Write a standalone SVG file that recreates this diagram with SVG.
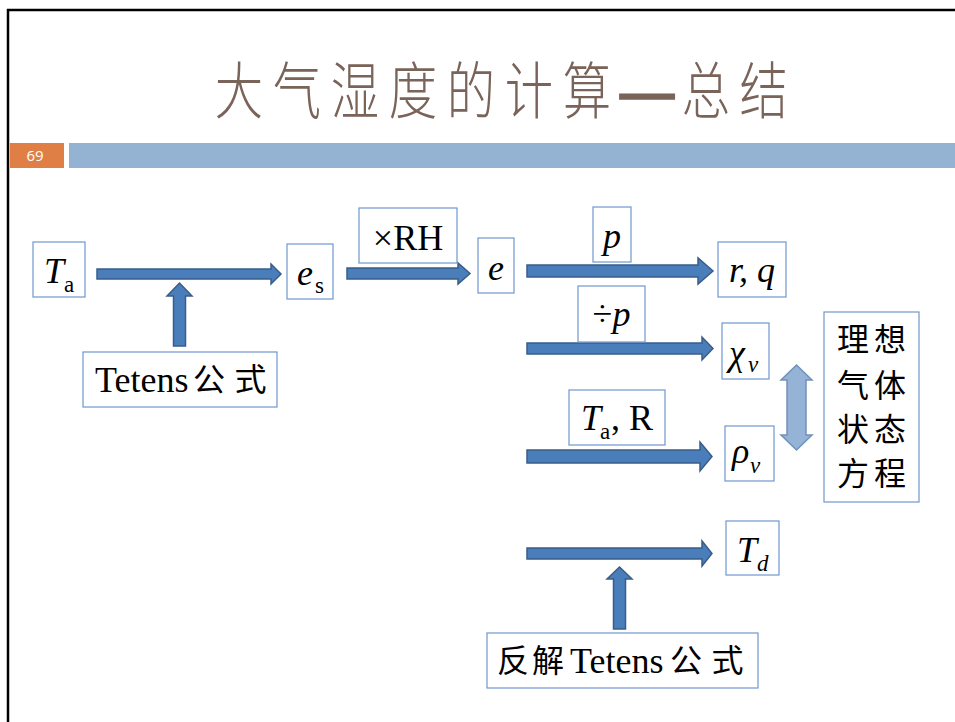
<svg xmlns="http://www.w3.org/2000/svg" width="955" height="722" viewBox="0 0 955 722">
<style>
.box{fill:#fff;stroke:#6f97cf;stroke-width:1.2}
.arr{fill:#4a7ebb;stroke:#385d8a;stroke-width:1.5;stroke-linejoin:miter}
.darr{fill:#95b3d7;stroke:#7391b8;stroke-width:1.5}
.m{font-family:"Liberation Serif","Times New Roman",serif;font-size:36px;fill:#000}
.i{font-style:italic}
.sub{font-size:23px}
.cjk{font-family:"Noto Sans CJK SC",sans-serif;font-size:32px;fill:#000}
.title{font-family:"Noto Sans CJK SC",sans-serif;font-size:62px;font-weight:300;fill:#7a6358}
</style>
<rect width="955" height="722" fill="#fff"/>
<g id="frame">
<line x1="7" y1="10" x2="955" y2="10" stroke="#000" stroke-width="2.5"/>
<line x1="8" y1="9" x2="8" y2="722" stroke="#000" stroke-width="2.5"/>
<rect x="10" y="143" width="54" height="25" fill="#e07f45"/>
<rect x="69" y="143" width="886" height="25" fill="#94b3d2"/>
<text x="35" y="161" text-anchor="middle" font-family="Open Sans,sans-serif" font-size="15" fill="#fff">69</text>
</g>
<g id="title">
<text class="title" transform="scale(0.78 1)" y="114" text-anchor="middle" x="306.4 380.8 455.1 529.5 603.8 678.2 752.6">大气湿度的计算</text>
<text class="title" transform="translate(647 114) scale(1.06 1)" text-anchor="middle" stroke="#7a6358" stroke-width="3.5">—</text>
<text class="title" transform="scale(0.78 1)" y="114" text-anchor="middle" x="905 979">总结</text>
</g>
<g id="connectors">
<polygon class="arr" points="97,269 271,269 271,264 281,274 271,284 271,279 97,279"/>
<polygon class="arr" points="347,268 458,268 458,263 470,273.5 458,284 458,279 347,279"/>
<polygon class="arr" points="527,265 698,265 698,258 713,271 698,284 698,277 527,277"/>
<polygon class="arr" points="527,343 702,343 702,337 713,348.5 702,360 702,354 527,354"/>
<polygon class="arr" points="527,450 700,450 700,442 712,456.5 700,471 700,463 527,463"/>
<polygon class="arr" points="527,548 702,548 702,541 712,553.5 702,566 702,559 527,559"/>
<polygon class="arr" points="173.5,346 173.5,296 167,296 179.5,283 192,296 185.5,296 185.5,346"/>
<polygon class="arr" points="613.5,629 613.5,579 607,579 619.5,567 632,579 625.5,579 625.5,629"/>
<polygon class="darr" points="796.5,365 812,380 806,380 806,435 812,435 796.5,450 781,435 787,435 787,380 781,380"/>
</g>
<g id="node-Ta">
<rect class="box" x="33" y="242" width="52" height="55"/>
<text class="m" y="283"><tspan class="i" x="44">T</tspan><tspan class="sub" x="64" y="292">a</tspan></text>
</g>
<g id="node-es">
<rect class="box" x="287" y="244" width="46" height="55"/>
<text class="m" y="285"><tspan class="i" x="297">e</tspan><tspan class="sub" x="315" y="293">s</tspan></text>
</g>
<g id="node-tetens">
<rect class="box" x="83" y="352" width="194" height="55"/>
<text class="m" x="95" y="392" font-size="35">Tetens</text>
<text class="cjk" y="391" x="209 250.5" text-anchor="middle">公式</text>
</g>
<g id="node-RH">
<rect class="box" x="359" y="208" width="98" height="55"/>
<text class="m" x="408" y="250" text-anchor="middle">×RH</text>
</g>
<g id="node-e">
<rect class="box" x="478" y="238" width="36" height="55"/>
<text class="m i" x="496" y="280" text-anchor="middle">e</text>
</g>
<g id="node-p">
<rect class="box" x="593" y="207" width="38" height="55"/>
<text class="m i" x="612" y="248" text-anchor="middle">p</text>
</g>
<g id="node-rq">
<rect class="box" x="718" y="242" width="68" height="55"/>
<text class="m i" x="752" y="282" text-anchor="middle">r, q</text>
</g>
<g id="node-divp">
<rect class="box" x="578" y="286" width="67" height="56"/>
<text class="m" x="611.5" y="326" text-anchor="middle">÷<tspan class="i">p</tspan></text>
</g>
<g id="node-chi">
<rect class="box" x="722" y="323" width="47" height="56"/>
<text class="m i" y="365"><tspan x="729">χ</tspan><tspan class="sub" x="748" y="372">v</tspan></text>
</g>
<g id="node-TaR">
<rect class="box" x="569" y="390" width="96" height="55"/>
<text class="m" y="430"><tspan class="i" x="581">T</tspan><tspan class="sub" x="600" y="439">a</tspan><tspan x="611" y="430">, R</tspan></text>
</g>
<g id="node-rho">
<rect class="box" x="725" y="426" width="49" height="55"/>
<text class="m i" y="463"><tspan x="732">ρ</tspan><tspan class="sub" x="750" y="473">v</tspan></text>
</g>
<g id="node-ideal">
<rect class="box" x="824" y="312" width="95" height="190"/>
<text class="cjk" x="853 890" y="351" text-anchor="middle">理想</text>
<text class="cjk" x="853 890" y="397" text-anchor="middle">气体</text>
<text class="cjk" x="853 890" y="441" text-anchor="middle">状态</text>
<text class="cjk" x="853 890" y="485" text-anchor="middle">方程</text>
</g>
<g id="node-Td">
<rect class="box" x="726" y="521" width="53" height="54"/>
<text class="m i" y="562"><tspan x="737">T</tspan><tspan class="sub" x="757" y="571">d</tspan></text>
</g>
<g id="node-inverse">
<rect class="box" x="487" y="633" width="271" height="55"/>
<text class="cjk" y="672" x="513 548" text-anchor="middle">反解</text>
<text class="m" x="570" y="673" font-size="35">Tetens</text>
<text class="cjk" y="672" x="686 727.5" text-anchor="middle">公式</text>
</g>
</svg>
